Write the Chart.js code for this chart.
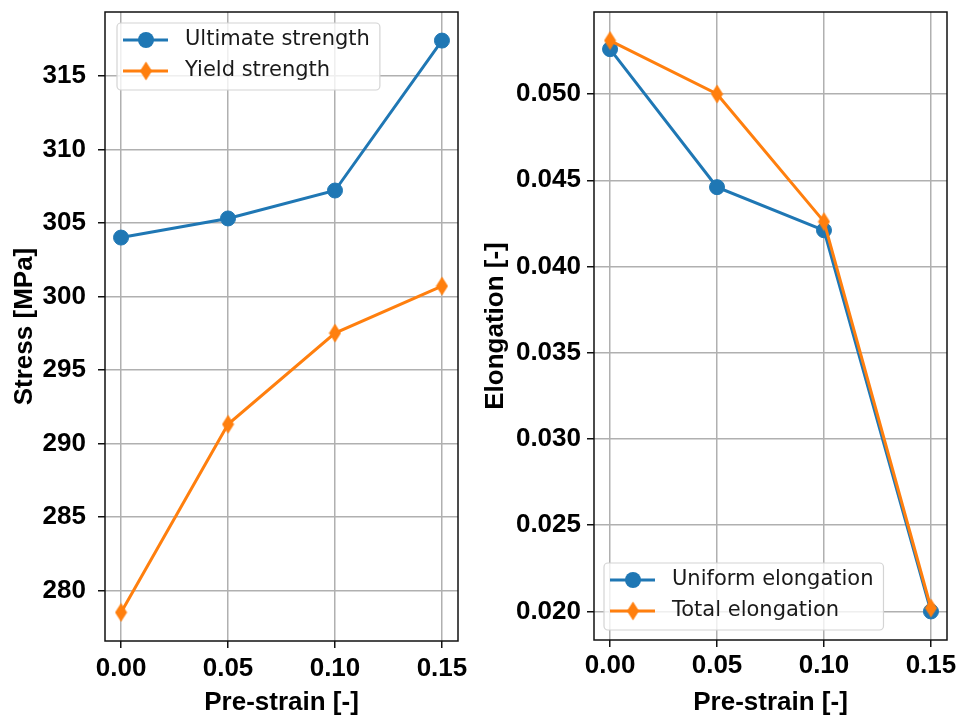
<!DOCTYPE html>
<html>
<head>
<meta charset="utf-8">
<script src="https://cdn.jsdelivr.net/npm/chart.js@4/dist/chart.umd.min.js"></script>
<style>
  html, body { margin: 0; padding: 0; background: #fff; }
  #wrap { position: relative; width: 960px; height: 718px; }
  canvas { position: absolute; top: 0; }
  #strengthChart { left: 0; }
  #elongChart { left: 480px; }
</style>
</head>
<body>
<div id="wrap">
  <canvas id="strengthChart" width="480" height="718"></canvas>
  <canvas id="elongChart" width="480" height="718"></canvas>
</div>
<script>
// pre-strain levels shared by both panels
const preStrain = [0, 0.05, 0.10, 0.15];

// left panel: stress [MPa]
const ultimateStrength = [304.0, 305.3, 307.2, 317.4];
const yieldStrength = [278.5, 291.3, 297.5, 300.7];

// right panel: elongation [-]
const uniformElongation = [0.0526, 0.0446, 0.0421, 0.0200];
const totalElongation = [0.0531, 0.0500, 0.0426, 0.0202];

// tick labels
const strainTicks = [0, 0.05, 0.10, 0.15];
const stressTicks = [280, 285, 290, 295, 300, 305, 310, 315];
const elongTicks = [0.020, 0.025, 0.030, 0.035, 0.040, 0.045, 0.050];

const BLUE = '#1f77b4';
const ORANGE = '#ff7f0e';
const SANS = '"Liberation Sans", Arial, sans-serif';

Chart.defaults.font.family = SANS;
Chart.defaults.color = '#000';

// matplotlib-style thin diamond marker
function thinDiamond(color) {
  const c = document.createElement('canvas');
  c.width = 13; c.height = 20;
  const g = c.getContext('2d');
  g.fillStyle = color;
  g.beginPath();
  g.moveTo(6.5, 0.5); g.lineTo(12.5, 10); g.lineTo(6.5, 19.5); g.lineTo(0.5, 10);
  g.closePath();
  g.fill();
  return c;
}
const diamond = thinDiamond(ORANGE);

// axis limits with 5% margin, like the autoscale in matplotlib
function padded(values) {
  const lo = Math.min(...values), hi = Math.max(...values);
  const m = (hi - lo) * 0.05;
  return [lo - m, hi + m];
}

// black box around the plotting area
const frame = {
  id: 'frame',
  afterDatasetsDraw(chart) {
    const { ctx, chartArea: a } = chart;
    ctx.save();
    ctx.strokeStyle = '#111';
    ctx.lineWidth = 1.5;
    ctx.strokeRect(a.left, a.top, a.right - a.left, a.bottom - a.top);
    ctx.restore();
  }
};

// legend drawn inside the axes, line + marker handles
const insideLegend = {
  id: 'insideLegend',
  afterDraw(chart, args, opts) {
    const { ctx, chartArea: a } = chart;
    const sets = chart.data.datasets;
    ctx.save();
    ctx.font = '21px "DejaVu Sans", sans-serif';
    const textW = Math.max(...sets.map(d => ctx.measureText(d.label).width));
    const w = 68 + textW + 10, h = 67;
    const x = a.left + opts.dx;
    const y = opts.corner === 'top' ? a.top + opts.dy : a.bottom - opts.dy - h;
    const r = 4;
    ctx.beginPath();
    ctx.moveTo(x + r, y);
    ctx.arcTo(x + w, y, x + w, y + h, r);
    ctx.arcTo(x + w, y + h, x, y + h, r);
    ctx.arcTo(x, y + h, x, y, r);
    ctx.arcTo(x, y, x + w, y, r);
    ctx.closePath();
    ctx.fillStyle = 'rgba(255,255,255,0.8)';
    ctx.fill();
    ctx.strokeStyle = '#d4d4d4';
    ctx.lineWidth = 1.2;
    ctx.stroke();
    sets.forEach((d, i) => {
      const ry = y + 17 + i * 31;
      ctx.strokeStyle = d.borderColor;
      ctx.lineWidth = d.borderWidth;
      ctx.beginPath();
      ctx.moveTo(x + 6, ry);
      ctx.lineTo(x + 51, ry);
      ctx.stroke();
      if (d.pointStyle === 'circle') {
        ctx.fillStyle = d.borderColor;
        ctx.beginPath();
        ctx.arc(x + 29, ry, 8, 0, Math.PI * 2);
        ctx.fill();
      } else {
        ctx.drawImage(d.pointStyle, x + 29 - d.pointStyle.width / 2, ry - d.pointStyle.height / 2);
      }
      ctx.fillStyle = '#1a1a1a';
      ctx.textBaseline = 'middle';
      ctx.textAlign = 'left';
      ctx.fillText(d.label, x + 68, ry);
    });
    ctx.restore();
  }
};

function series(label, values, color, marker, order) {
  return {
    label: label,
    data: preStrain.map((x, i) => ({ x: x, y: values[i] })),
    borderColor: color,
    backgroundColor: color,
    borderWidth: 3,
    pointStyle: marker,
    pointRadius: 7.5,
    pointBorderWidth: 1,
    pointBackgroundColor: color,
    pointBorderColor: color,
    order: order,
    tension: 0
  };
}

function makeChart(id, cfg) {
  const [ymin, ymax] = padded(cfg.values);
  const [xmin, xmax] = padded(preStrain);
  return new Chart(document.getElementById(id), {
    type: 'line',
    data: { datasets: cfg.datasets },
    plugins: [frame, insideLegend],
    options: {
      responsive: false,
      animation: false,
      layout: { padding: { left: 0, top: 12, right: cfg.padRight, bottom: 0 } },
      plugins: {
        legend: { display: false },
        tooltip: { enabled: false },
        insideLegend: cfg.legend
      },
      scales: {
        x: {
          type: 'linear',
          min: xmin,
          max: xmax,
          afterBuildTicks: s => { s.ticks = strainTicks.map(v => ({ value: v })); },
          afterFit: s => { s.height = cfg.xHeight; s.paddingLeft = 0; s.paddingRight = 0; },
          grid: { color: '#b0b0b0', lineWidth: 1.5, tickColor: '#111', tickLength: 7, tickWidth: 1.5 },
          border: { display: false },
          ticks: {
            padding: cfg.xTickPad,
            maxRotation: 0,
            font: { size: 26, weight: 'bold' },
            callback: v => v.toFixed(2)
          },
          title: {
            display: true,
            text: 'Pre-strain [-]',
            font: { size: 26, weight: 'bold' },
            padding: { top: 0, bottom: 0 }
          }
        },
        y: {
          type: 'linear',
          min: ymin,
          max: ymax,
          afterBuildTicks: s => { s.ticks = cfg.yTicks.map(v => ({ value: v })); },
          afterFit: s => { s.width = cfg.yWidth; s.paddingTop = 0; s.paddingBottom = 0; },
          grid: { color: '#b0b0b0', lineWidth: 1.5, tickColor: '#111', tickLength: 7, tickWidth: 1.5 },
          border: { display: false },
          ticks: {
            padding: cfg.yTickPad,
            font: { size: 26, weight: 'bold' },
            callback: cfg.yFormat
          },
          title: {
            display: true,
            text: cfg.yTitle,
            font: { size: 26, weight: 'bold' },
            padding: { top: cfg.yTitlePad, bottom: 0 }
          }
        }
      }
    }
  });
}

makeChart('strengthChart', {
  datasets: [
    series('Ultimate strength', ultimateStrength, BLUE, 'circle', 1),
    series('Yield strength', yieldStrength, ORANGE, diamond, 0)
  ],
  values: ultimateStrength.concat(yieldStrength),
  yTicks: stressTicks,
  yFormat: v => v.toFixed(0),
  yTitle: 'Stress [MPa]',
  yTitlePad: 9,
  yWidth: 105,
  yTickPad: 12,
  xHeight: 77,
  xTickPad: 5,
  padRight: 22,
  legend: { corner: 'top', dx: 12, dy: 11 }
});

makeChart('elongChart', {
  datasets: [
    series('Uniform elongation', uniformElongation, BLUE, 'circle', 1),
    series('Total elongation', totalElongation, ORANGE, diamond, 0)
  ],
  values: uniformElongation.concat(totalElongation),
  yTicks: elongTicks,
  yFormat: v => v.toFixed(3),
  yTitle: 'Elongation [-]',
  yTitlePad: 0,
  yWidth: 114,
  yTickPad: 6,
  xHeight: 78,
  xTickPad: 3,
  padRight: 13,
  legend: { corner: 'bottom', dx: 10, dy: 10 }
});
</script>
</body>
</html>
